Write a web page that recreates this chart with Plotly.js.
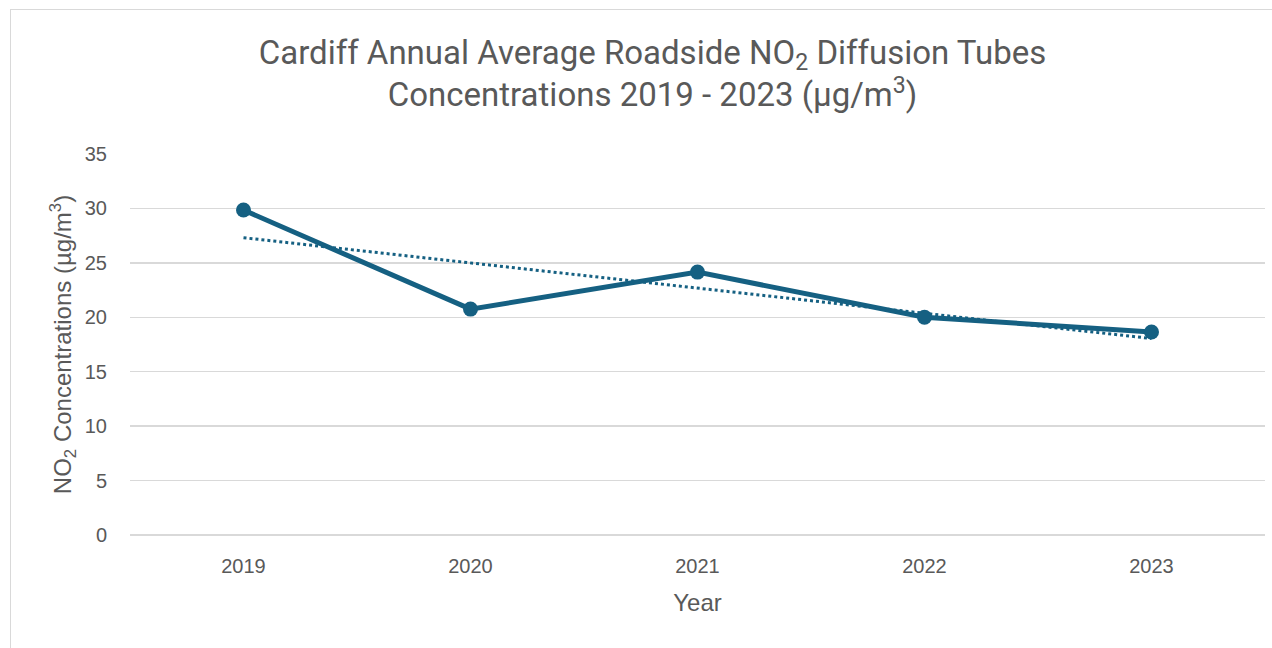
<!DOCTYPE html>
<html>
<head>
<meta charset="utf-8">
<script src="https://cdn.plot.ly/plotly-3.0.1.min.js"></script>
<style>
  html, body { margin: 0; padding: 0; background: #fff; }
  #wrap { position: relative; width: 1272px; height: 648px; }
  #chart { width: 1272px; height: 648px; }
  #frame { position: absolute; left: 10px; top: 9px; width: 1262px; height: 639px;
           border-top: 1.5px solid #d9d9d9; border-left: 1.5px solid #d9d9d9; pointer-events: none; box-sizing: border-box; }
</style>
</head>
<body>
<div id="wrap">
  <div id="chart"></div>
  <div id="frame"></div>
</div>
<script>
const years = ['2019', '2020', '2021', '2022', '2023'];
const no2Values = [29.85, 20.75, 24.15, 20.0, 18.65];
const yTicks = [0, 5, 10, 15, 20, 25, 30, 35];

// Linear trendline fitted to the data (like the spreadsheet's linear trendline)
const n = no2Values.length;
const xs = no2Values.map((_, i) => i);
const mx = xs.reduce((a, b) => a + b, 0) / n;
const my = no2Values.reduce((a, b) => a + b, 0) / n;
let sxy = 0, sxx = 0;
for (let i = 0; i < n; i++) { sxy += (xs[i] - mx) * (no2Values[i] - my); sxx += (xs[i] - mx) ** 2; }
const slope = sxy / sxx;
const intercept = my - slope * mx;
const trend = xs.map(x => intercept + slope * x);

const color = '#156082';
const grey = '#595959';
const axisFont = 'Liberation Sans, Arial, sans-serif';

const traces = [
  {
    x: years, y: trend, type: 'scatter', mode: 'lines',
    line: { color: color, width: 3, dash: 'dot' },
    hoverinfo: 'skip', showlegend: false
  },
  {
    x: years, y: no2Values, type: 'scatter', mode: 'lines+markers',
    line: { color: color, width: 5 },
    marker: { color: color, size: 15 },
    showlegend: false
  }
];

const layout = {
  width: 1272, height: 648,
  margin: { l: 130, r: 7, t: 154, b: 113 },
  paper_bgcolor: '#ffffff', plot_bgcolor: '#ffffff',
  title: {
    text: 'Cardiff Annual Average Roadside NO<sub>2</sub> Diffusion Tubes<br>Concentrations 2019 - 2023 (µg/m<sup>3</sup>)',
    font: { family: 'Roboto, sans-serif', size: 33, color: grey },
    x: 0.513, xanchor: 'center', y: 0.902, yanchor: 'top'
  },
  xaxis: {
    type: 'category', range: [-0.5, 4.5],
    showgrid: false, zeroline: false, showline: false, ticks: '',
    tickfont: { family: axisFont, size: 20, color: grey },
    ticklabelstandoff: 17,
    title: { text: 'Year', font: { family: axisFont, size: 24, color: grey }, standoff: 18 }
  },
  yaxis: {
    range: [0, 35], tickvals: yTicks, ticktext: yTicks.map(String),
    showgrid: true, gridcolor: '#d9d9d9', gridwidth: 1.5,
    zeroline: true, zerolinecolor: '#d9d9d9', zerolinewidth: 1.5,
    showline: false, ticks: '',
    tickfont: { family: axisFont, size: 20, color: grey },
    ticklabelstandoff: 22,
    title: { text: 'NO<sub>2</sub> Concentrations (µg/m<sup>3</sup>)', font: { family: axisFont, size: 24, color: grey }, standoff: 6 }
  }
};

Plotly.newPlot('chart', traces, layout, { displayModeBar: false, staticPlot: true });
</script>
</body>
</html>
